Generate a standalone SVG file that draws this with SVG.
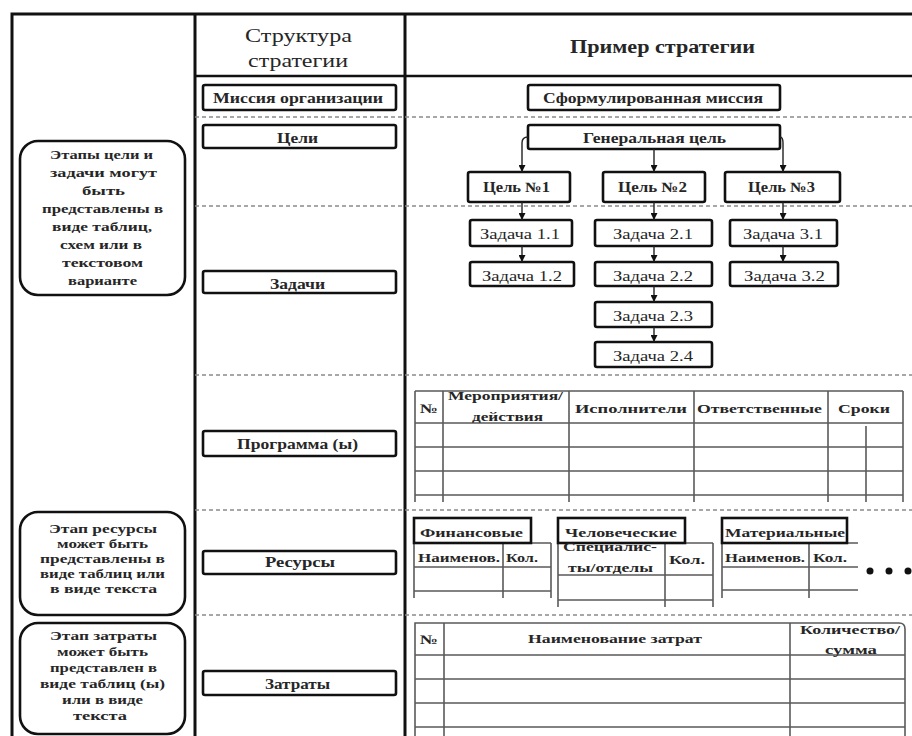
<svg xmlns="http://www.w3.org/2000/svg" width="912" height="736" viewBox="0 0 912 736">
<defs>
<style>
.frame{stroke:#111;stroke-width:3;fill:none}
.hdr{stroke:#111;stroke-width:2.5;fill:none}
.dash{stroke:#8a8a8a;stroke-width:1.5;stroke-dasharray:4 3;fill:none}
.box{fill:#fff;stroke:#111;stroke-width:2.6}
.rbox{fill:#fff;stroke:#111;stroke-width:2.6}
.tbl{stroke:#5a5a5a;stroke-width:1.6;fill:none}
.con{stroke:#222;stroke-width:1.4;fill:none}
text{font-family:'Liberation Serif','DejaVu Serif','Times New Roman',serif;fill:#262626}
.h{font-size:18px}
.b{font-size:14px;font-weight:bold}
.z{font-size:15px}
.n{font-size:13px;font-weight:bold}
.tt{font-size:13px;font-weight:bold}
</style>
<marker id="ah" viewBox="0 0 8 8" refX="8" refY="4" markerWidth="7" markerHeight="7" markerUnits="userSpaceOnUse" orient="auto"><path d="M0,0 L8,4 L0,8 z" fill="#111"/></marker>
</defs>
<rect width="912" height="736" fill="#fff"/>

<g id="grid">
<path class="frame" d="M12,736 V14 H912"/>
<path class="frame" d="M195,14 V736"/>
<path class="frame" d="M405,14 V736"/>
<path class="hdr" d="M195,76 H912"/>
<path class="dash" d="M195,117 H912 M195,206 H912 M195,375 H912 M195,510 H912 M195,615 H912"/>
</g>

<g id="header">
<text class="h" x="245" y="42" textLength="107" lengthAdjust="spacingAndGlyphs">Структура</text>
<text class="h" x="248" y="67" textLength="100" lengthAdjust="spacingAndGlyphs">стратегии</text>
<text class="h" x="570" y="53" textLength="185" lengthAdjust="spacingAndGlyphs" font-weight="bold">Пример стратегии</text>
</g>

<g id="note-goals">
<rect class="rbox" x="20" y="141" width="165" height="154" rx="18"/>
<text class="n" x="50" y="159" textLength="103" lengthAdjust="spacingAndGlyphs">Этапы цели и</text>
<text class="n" x="50" y="177" textLength="107" lengthAdjust="spacingAndGlyphs">задачи могут</text>
<text class="n" x="82" y="195" textLength="43" lengthAdjust="spacingAndGlyphs">быть</text>
<text class="n" x="42" y="213" textLength="121" lengthAdjust="spacingAndGlyphs">представлены в</text>
<text class="n" x="52" y="231" textLength="100" lengthAdjust="spacingAndGlyphs">виде таблиц,</text>
<text class="n" x="60" y="249" textLength="82" lengthAdjust="spacingAndGlyphs">схем или в</text>
<text class="n" x="62" y="267" textLength="81" lengthAdjust="spacingAndGlyphs">текстовом</text>
<text class="n" x="68" y="285" textLength="69" lengthAdjust="spacingAndGlyphs">варианте</text>
</g>

<g id="note-resources">
<rect class="rbox" x="20" y="512" width="165" height="103" rx="18"/>
<text class="n" x="49" y="533" textLength="108" lengthAdjust="spacingAndGlyphs">Этап ресурсы</text>
<text class="n" x="57" y="548" textLength="91" lengthAdjust="spacingAndGlyphs">может быть</text>
<text class="n" x="40" y="563" textLength="125" lengthAdjust="spacingAndGlyphs">представлены в</text>
<text class="n" x="40" y="578" textLength="125" lengthAdjust="spacingAndGlyphs">виде таблиц или</text>
<text class="n" x="50" y="593" textLength="107" lengthAdjust="spacingAndGlyphs">в виде текста</text>
</g>

<g id="note-costs">
<rect class="rbox" x="20" y="623" width="165" height="111" rx="18"/>
<text class="n" x="50" y="640" textLength="107" lengthAdjust="spacingAndGlyphs">Этап затраты</text>
<text class="n" x="57" y="656" textLength="91" lengthAdjust="spacingAndGlyphs">может быть</text>
<text class="n" x="50" y="672" textLength="107" lengthAdjust="spacingAndGlyphs">представлен в</text>
<text class="n" x="40" y="688" textLength="125" lengthAdjust="spacingAndGlyphs">виде таблиц (ы)</text>
<text class="n" x="62" y="704" textLength="81" lengthAdjust="spacingAndGlyphs">или в виде</text>
<text class="n" x="73" y="720" textLength="54" lengthAdjust="spacingAndGlyphs">текста</text>
</g>

<g id="s-mission">
<rect class="box" x="203" y="85" width="193" height="25" rx="2"/>
<text class="b" x="213" y="103" textLength="170" lengthAdjust="spacingAndGlyphs">Миссия организации</text>
</g>
<g id="s-goals">
<rect class="box" x="203" y="125" width="193" height="23" rx="2"/>
<text class="b" x="277" y="143" textLength="41" lengthAdjust="spacingAndGlyphs">Цели</text>
</g>
<g id="s-tasks">
<rect class="box" x="203" y="271" width="193" height="22" rx="2"/>
<text class="b" x="270" y="289" textLength="55" lengthAdjust="spacingAndGlyphs">Задачи</text>
</g>
<g id="s-program">
<rect class="box" x="203" y="431" width="193" height="25" rx="2"/>
<text class="b" x="237" y="449" textLength="121" lengthAdjust="spacingAndGlyphs" font-weight="normal">Программа (ы)</text>
</g>
<g id="s-resources">
<rect class="box" x="203" y="551" width="193" height="23" rx="2"/>
<text class="b" x="265" y="567" textLength="70" lengthAdjust="spacingAndGlyphs">Ресурсы</text>
</g>
<g id="s-costs">
<rect class="box" x="203" y="671" width="193" height="24" rx="2"/>
<text class="b" x="265" y="689" textLength="65" lengthAdjust="spacingAndGlyphs">Затраты</text>
</g>

<g id="e-mission">
<rect class="box" x="528" y="85" width="252" height="25" rx="2"/>
<text class="b" x="543" y="103" textLength="220" lengthAdjust="spacingAndGlyphs">Сформулированная миссия</text>
</g>
<g id="e-general">
<rect class="box" x="528" y="125" width="252" height="24" rx="2"/>
<text class="b" x="583" y="143" textLength="143" lengthAdjust="spacingAndGlyphs">Генеральная цель</text>
</g>
<g id="e-goal1">
<rect class="box" x="468" y="172" width="102" height="30" rx="2"/>
<text class="b" x="483" y="192" textLength="67" lengthAdjust="spacingAndGlyphs">Цель №1</text>
</g>
<g id="e-goal2">
<rect class="box" x="603" y="172" width="102" height="30" rx="2"/>
<text class="b" x="618" y="192" textLength="69" lengthAdjust="spacingAndGlyphs">Цель №2</text>
</g>
<g id="e-goal3">
<rect class="box" x="725" y="172" width="115" height="30" rx="2"/>
<text class="b" x="748" y="192" textLength="67" lengthAdjust="spacingAndGlyphs">Цель №3</text>
</g>
<g id="e-t11">
<rect class="box" x="470" y="220" width="102" height="26" rx="2"/>
<text class="z" x="480" y="239" textLength="80" lengthAdjust="spacingAndGlyphs">Задача 1.1</text>
</g>
<g id="e-t21">
<rect class="box" x="595" y="220" width="117" height="26" rx="2"/>
<text class="z" x="613" y="239" textLength="80" lengthAdjust="spacingAndGlyphs">Задача 2.1</text>
</g>
<g id="e-t31">
<rect class="box" x="730" y="220" width="107" height="26" rx="2"/>
<text class="z" x="743" y="239" textLength="80" lengthAdjust="spacingAndGlyphs">Задача 3.1</text>
</g>
<g id="e-t12">
<rect class="box" x="470" y="262" width="104" height="24" rx="2"/>
<text class="z" x="482" y="281" textLength="80" lengthAdjust="spacingAndGlyphs">Задача 1.2</text>
</g>
<g id="e-t22">
<rect class="box" x="595" y="262" width="117" height="24" rx="2"/>
<text class="z" x="613" y="281" textLength="80" lengthAdjust="spacingAndGlyphs">Задача 2.2</text>
</g>
<g id="e-t32">
<rect class="box" x="730" y="262" width="108" height="24" rx="2"/>
<text class="z" x="744" y="281" textLength="81" lengthAdjust="spacingAndGlyphs">Задача 3.2</text>
</g>
<g id="e-t23">
<rect class="box" x="595" y="302" width="117" height="25" rx="2"/>
<text class="z" x="613" y="321" textLength="80" lengthAdjust="spacingAndGlyphs">Задача 2.3</text>
</g>
<g id="e-t24">
<rect class="box" x="595" y="342" width="117" height="25" rx="2"/>
<text class="z" x="613" y="361" textLength="80" lengthAdjust="spacingAndGlyphs">Задача 2.4</text>
</g>

<g id="connectors">
<path class="con" d="M528,137 Q522,137 522,143 V172" marker-end="url(#ah)"/>
<path class="con" d="M654,149 V172" marker-end="url(#ah)"/>
<path class="con" d="M780,137 Q783,137 783,143 V172" marker-end="url(#ah)"/>
<path class="con" d="M522,202 V220" marker-end="url(#ah)"/>
<path class="con" d="M654,202 V220" marker-end="url(#ah)"/>
<path class="con" d="M783,202 V220" marker-end="url(#ah)"/>
<path class="con" d="M522,246 V262" marker-end="url(#ah)"/>
<path class="con" d="M654,246 V262" marker-end="url(#ah)"/>
<path class="con" d="M783,246 V262" marker-end="url(#ah)"/>
<path class="con" d="M654,286 V302" marker-end="url(#ah)"/>
<path class="con" d="M654,327 V342" marker-end="url(#ah)"/>
</g>

<g id="program-table">
<path class="tbl" d="M415,391 H903 M415,423 H903 M415,447 H903 M415,471 H903 M415,495 H903"/>
<path class="tbl" d="M415,391 V502 M443,391 V502 M569,391 V502 M694,391 V502 M828,391 V502 M903,391 V502 M866,426 V502"/>
<text class="tt" x="420" y="413" textLength="18" lengthAdjust="spacingAndGlyphs">№</text>
<text class="tt" x="448" y="400" textLength="115" lengthAdjust="spacingAndGlyphs">Мероприятия/</text>
<text class="tt" x="472" y="421" textLength="71" lengthAdjust="spacingAndGlyphs">действия</text>
<text class="tt" x="575" y="413" textLength="112" lengthAdjust="spacingAndGlyphs">Исполнители</text>
<text class="tt" x="697" y="413" textLength="125" lengthAdjust="spacingAndGlyphs">Ответственные</text>
<text class="tt" x="838" y="413" textLength="52" lengthAdjust="spacingAndGlyphs">Сроки</text>
</g>

<g id="res-fin">
<path class="tbl" d="M414,543 H551 M414,567 H551 M414,591 H551 M414,543 V598 M503,543 V598 M551,543 V598"/>
<rect class="box" x="414" y="518" width="117" height="25"/>
<text class="tt" x="420" y="537" textLength="103" lengthAdjust="spacingAndGlyphs">Финансовые</text>
<text class="tt" x="418" y="562" textLength="82" lengthAdjust="spacingAndGlyphs">Наименов.</text>
<text class="tt" x="506" y="562" textLength="32" lengthAdjust="spacingAndGlyphs">Кол.</text>
</g>
<g id="res-hum">
<path class="tbl" d="M558,543 H713 M558,575 H713 M558,600 H713 M558,543 V607 M665,543 V607 M713,543 V607"/>
<rect class="box" x="558" y="518" width="127" height="25"/>
<text class="tt" x="565" y="537" textLength="112" lengthAdjust="spacingAndGlyphs">Человеческие</text>
<text class="tt" x="563" y="551" textLength="94" lengthAdjust="spacingAndGlyphs">Специалис-</text>
<text class="tt" x="568" y="572" textLength="85" lengthAdjust="spacingAndGlyphs">ты/отделы</text>
<text class="tt" x="669" y="564" textLength="36" lengthAdjust="spacingAndGlyphs">Кол.</text>
</g>
<g id="res-mat">
<path class="tbl" d="M722,543 H858 M722,567 H858 M722,590 H858 M722,543 V598 M809,543 V598"/>
<rect class="box" x="722" y="518" width="125" height="25"/>
<text class="tt" x="725" y="537" textLength="120" lengthAdjust="spacingAndGlyphs">Материальные</text>
<text class="tt" x="725" y="562" textLength="80" lengthAdjust="spacingAndGlyphs">Наименов.</text>
<text class="tt" x="813" y="562" textLength="34" lengthAdjust="spacingAndGlyphs">Кол.</text>
</g>
<g id="res-more" fill="#111">
<circle cx="870" cy="571" r="3.5"/>
<circle cx="889" cy="571" r="3.5"/>
<circle cx="908" cy="571" r="3.5"/>
</g>

<g id="cost-table">
<path class="tbl" d="M415,736 V623 H899 Q905,623 905,629 V736 M415,655 H905 M415,679 H905 M415,703 H905 M415,727 H905 M444,623 V736 M790,623 V736"/>
<text class="tt" x="420" y="644" textLength="18" lengthAdjust="spacingAndGlyphs">№</text>
<text class="tt" x="528" y="643" textLength="174" lengthAdjust="spacingAndGlyphs">Наименование затрат</text>
<text class="tt" x="800" y="634" textLength="100" lengthAdjust="spacingAndGlyphs">Количество/</text>
<text class="tt" x="825" y="654" textLength="52" lengthAdjust="spacingAndGlyphs">сумма</text>
</g>
</svg>
